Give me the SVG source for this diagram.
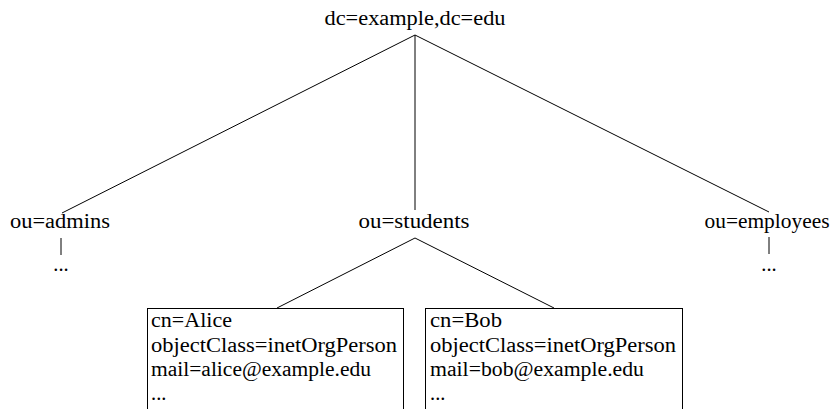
<svg xmlns="http://www.w3.org/2000/svg" width="830" height="409" viewBox="0 0 830 409" font-family="Liberation Serif, DejaVu Serif, serif">
<style>
text{font-size:20.5px;fill:#000}
.c{text-anchor:middle}
.e{stroke:#000;stroke-width:1;fill:none}
.box{stroke:#000;stroke-width:1;fill:#fff}
</style>
<rect width="830" height="409" fill="#fff"/>
<g id="connectors">
<line class="e" x1="415" y1="35" x2="62" y2="213"/>
<line class="e" x1="415" y1="35" x2="415" y2="210"/>
<line class="e" x1="415" y1="35" x2="769" y2="212"/>
<line class="e" x1="61" y1="238" x2="61" y2="255"/>
<line class="e" x1="769" y1="237" x2="769" y2="254"/>
<line class="e" x1="415" y1="238" x2="277" y2="308"/>
<line class="e" x1="415" y1="238" x2="554" y2="308"/>
</g>
<g id="root"><text class="c" x="415" y="25" textLength="181" lengthAdjust="spacingAndGlyphs">dc=example,dc=edu</text></g>
<g id="admins"><text class="c" x="60" y="228" textLength="100" lengthAdjust="spacingAndGlyphs">ou=admins</text></g>
<g id="admins-more"><text class="c" x="61" y="271">...</text></g>
<g id="students"><text class="c" x="414" y="228" textLength="111" lengthAdjust="spacingAndGlyphs">ou=students</text></g>
<g id="employees"><text class="c" x="767" y="228" textLength="125" lengthAdjust="spacingAndGlyphs">ou=employees</text></g>
<g id="employees-more"><text class="c" x="769" y="271">...</text></g>
<g id="alice">
<rect class="box" x="147.5" y="308.5" width="256" height="130"/>
<text x="151" y="327" textLength="81" lengthAdjust="spacingAndGlyphs">cn=Alice</text>
<text x="151" y="352" textLength="246" lengthAdjust="spacingAndGlyphs">objectClass=inetOrgPerson</text>
<text x="151" y="376" textLength="220" lengthAdjust="spacingAndGlyphs">mail=alice@example.edu</text>
<text x="151" y="400">...</text>
</g>
<g id="bob">
<rect class="box" x="425.5" y="308.5" width="257" height="130"/>
<text x="430" y="327" textLength="72" lengthAdjust="spacingAndGlyphs">cn=Bob</text>
<text x="430" y="352" textLength="246" lengthAdjust="spacingAndGlyphs">objectClass=inetOrgPerson</text>
<text x="430" y="376" textLength="214" lengthAdjust="spacingAndGlyphs">mail=bob@example.edu</text>
<text x="430" y="400">...</text>
</g>
</svg>
